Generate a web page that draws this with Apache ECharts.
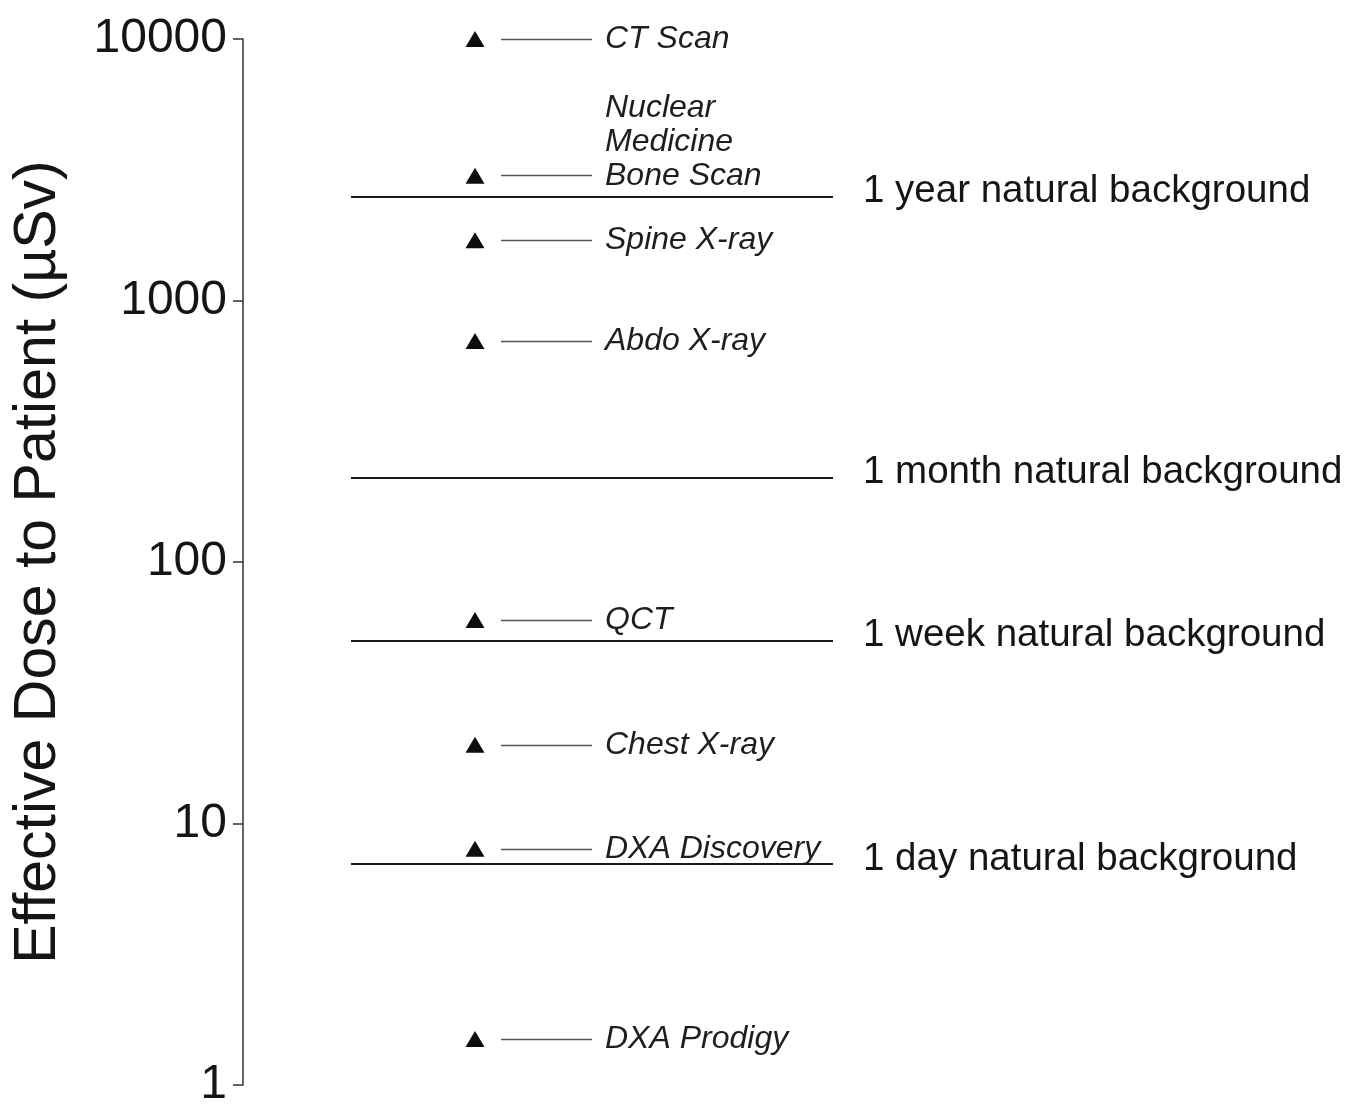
<!DOCTYPE html>
<html>
<head>
<meta charset="utf-8">
<title>Effective Dose to Patient</title>
<script src="https://cdn.jsdelivr.net/npm/echarts@6/dist/echarts.min.js"></script>
<style>
  html, body { margin: 0; padding: 0; background: #ffffff; }
  #chart { width: 1354px; height: 1109px; }
</style>
</head>
<body>
<div id="chart"></div>
<script>
// Examinations and their effective dose (µSv)
const examNames = ['CT Scan', 'Nuclear\nMedicine\nBone Scan', 'Spine X-ray', 'Abdo X-ray', 'QCT', 'Chest X-ray', 'DXA Discovery', 'DXA Prodigy'];
const examDoses = [10000, 3000, 1700, 700, 60, 20, 8, 1.5];

// Natural background reference levels (µSv)
const backgroundNames = ['1 year natural background', '1 month natural background', '1 week natural background', '1 day natural background'];
const backgroundDoses = [2500, 210, 50, 7];

// Decade ticks on the dose axis
const doseTicks = ['1', '10', '100', '1000', '10000'];

// Horizontal layout on a hidden 0..1100 x axis
const MARK_X = 232;
const LEADER_FROM = 258;
const LEADER_TO = 349;
const LABEL_X = 362;
const BG_FROM = 108;
const BG_TO = 590;

const FONT = '"Liberation Sans", Arial, Helvetica, sans-serif';

const chart = echarts.init(document.getElementById('chart'), null, { renderer: 'canvas' });

const leaderLines = examDoses.map(v => [
  { coord: [LEADER_FROM, v] },
  { coord: [LEADER_TO, v] }
]);

const backgroundLines = backgroundDoses.map((v, i) => [
  { coord: [BG_FROM, v], name: backgroundNames[i] },
  { coord: [BG_TO, v] }
]);

const labelData = examDoses.map((v, i) => {
  const item = { name: examNames[i], value: [LABEL_X, v] };
  if (examNames[i].indexOf('\n') >= 0) {
    // keep the last line level with its marker
    item.label = { verticalAlign: 'bottom', offset: [0, 17] };
  }
  return item;
});

chart.setOption({
  animation: false,
  backgroundColor: '#ffffff',
  grid: { left: 243, right: 11, top: 39, bottom: 22, containLabel: false },
  xAxis: {
    type: 'value', min: 0, max: 1100, show: false
  },
  yAxis: {
    type: 'log',
    logBase: 10,
    min: 1,
    max: 10000,
    name: 'Effective Dose to Patient (µSv)',
    nameLocation: 'middle',
    nameGap: 175,
    nameTextStyle: { fontFamily: FONT, fontSize: 59, color: '#151515' },
    axisLine: { show: true, lineStyle: { color: '#333', width: 1.5 } },
    axisTick: { show: true, inside: false, length: 10, lineStyle: { color: '#333', width: 1.5 } },
    minorTick: { show: false },
    splitLine: { show: false },
    axisLabel: {
      margin: 16,
      fontFamily: FONT,
      fontSize: 48,
      color: '#151515',
      formatter: function (val) {
        const idx = Math.round(Math.log10(val));
        return doseTicks[idx] !== undefined ? doseTicks[idx] : '';
      }
    }
  },
  series: [
    {
      name: 'markers',
      type: 'scatter',
      symbol: 'triangle',
      symbolSize: [19, 16],
      itemStyle: { color: '#0d0d0d', opacity: 1 },
      data: examDoses.map(v => [MARK_X, v]),
      markLine: {
        silent: true,
        symbol: ['none', 'none'],
        label: { show: false },
        lineStyle: { color: '#555', width: 1.3, type: 'solid', opacity: 1 },
        data: leaderLines
      },
      z: 3
    },
    {
      name: 'labels',
      type: 'scatter',
      symbolSize: 0,
      itemStyle: { opacity: 1 },
      data: labelData,
      label: {
        show: true,
        position: 'right',
        distance: 0,
        formatter: '{b}',
        fontFamily: FONT,
        fontStyle: 'italic',
        fontSize: 32,
        lineHeight: 34,
        color: '#1e1e1e'
      },
      z: 4
    },
    {
      name: 'background',
      type: 'scatter',
      data: [],
      markLine: {
        silent: true,
        symbol: ['none', 'none'],
        lineStyle: { color: '#1a1a1a', width: 2.2, type: 'solid', opacity: 1 },
        label: {
          show: true,
          position: 'end',
          distance: 30,
          offset: [0, -5],
          formatter: '{b}',
          fontFamily: FONT,
          fontSize: 38.5,
          color: '#151515'
        },
        data: backgroundLines
      },
      z: 2
    }
  ]
});
</script>
</body>
</html>
